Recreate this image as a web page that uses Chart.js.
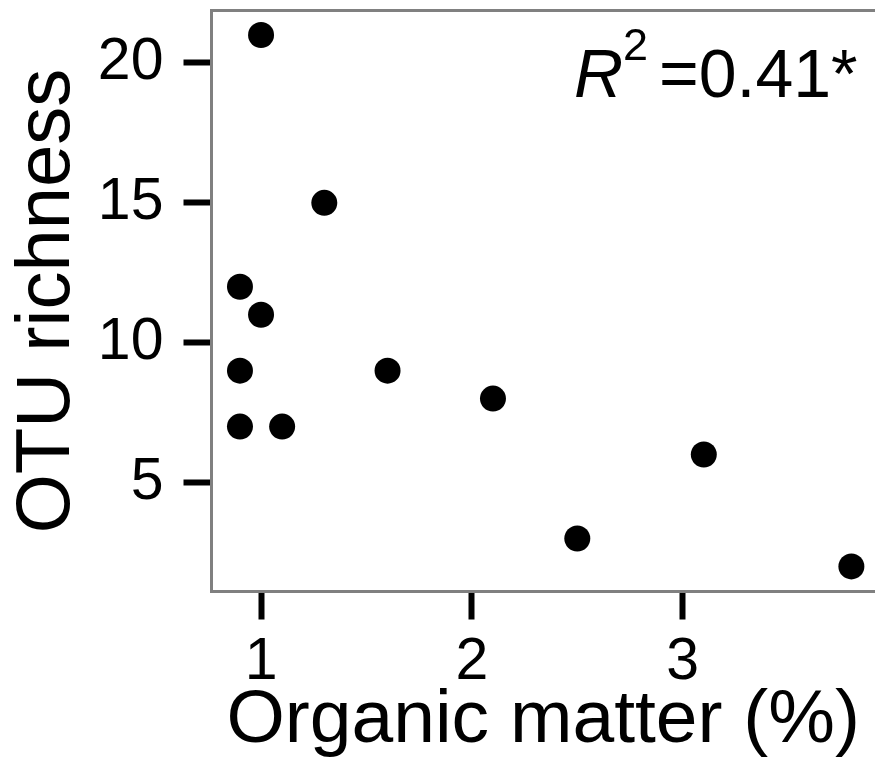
<!DOCTYPE html>
<html>
<head>
<meta charset="utf-8">
<script src="https://cdn.jsdelivr.net/npm/chart.js@4/dist/chart.umd.min.js"></script>
<style>
  html, body { margin: 0; padding: 0; background: #fff; overflow: hidden; }
  canvas { display: block; }
</style>
</head>
<body>
<canvas id="omChart" width="875" height="777"></canvas>
<script>
// values
var organicMatter = [1.0, 1.3, 0.9, 1.0, 0.9, 1.6, 2.1, 0.9, 1.1, 3.1, 2.5, 3.8];
var otuRichness   = [21, 15, 12, 11, 9, 9, 8, 7, 7, 6, 3, 2];
var xTickValues = [1, 2, 3];
var yTickValues = [5, 10, 15, 20];
var xTitle = 'Organic matter (%)';
var yTitle = 'OTU richness';
var r2Value = '=0.41*';

var FONT = '"Liberation Sans", Arial, Helvetica, sans-serif';
var BORDER = '#808080';

var points = organicMatter.map(function(x, i) {
    return { x: x, y: otuRichness[i] };
});

// no extra room for edge labels, the frame sits where the figure has it
function noPad(s) {
    s.paddingTop = 0;
    s.paddingBottom = 0;
    s.paddingLeft = 0;
    s.paddingRight = 0;
}

// top frame line and the R^2 annotation
var extras = {
    id: 'extras',
    afterDraw: function(chart) {
        var ctx = chart.ctx;
        var a = chart.chartArea;
        ctx.save();
        ctx.strokeStyle = BORDER;
        ctx.lineWidth = 3;
        ctx.beginPath();
        ctx.moveTo(a.left - 1.5, a.top);
        ctx.lineTo(a.right + 2, a.top);
        ctx.stroke();

        ctx.fillStyle = '#000';
        ctx.textBaseline = 'alphabetic';
        ctx.textAlign = 'left';
        ctx.font = 'italic 68px ' + FONT;
        ctx.fillText('R', 574, 97);
        ctx.font = '45px ' + FONT;
        ctx.fillText('2', 623, 60);
        ctx.font = '68px ' + FONT;
        ctx.fillText(r2Value, 659, 97);
        ctx.restore();
    }
};

var ctx = document.getElementById('omChart').getContext('2d');
var chart = new Chart(ctx, {
    type: 'scatter',
    data: {
        datasets: [{
            data: points,
            backgroundColor: '#000',
            borderWidth: 0,
            pointRadius: 13,
            pointHoverRadius: 13,
            clip: false
        }]
    },
    options: {
        responsive: false,
        animation: false,
        events: [],
        layout: {
            autoPadding: false,
            padding: { top: 10.5, right: 0, left: 0, bottom: 0 }
        },
        plugins: {
            legend: { display: false },
            tooltip: { enabled: false }
        },
        scales: {
            x: {
                type: 'linear',
                min: 0.765,
                max: 3.912,
                afterBuildTicks: function(s) {
                    s.ticks = xTickValues.map(function(v) { return { value: v }; });
                },
                afterFit: function(s) { s.height = 185.5; noPad(s); },
                grid: {
                    drawOnChartArea: false,
                    drawTicks: true,
                    tickLength: 28,
                    tickWidth: 6,
                    tickColor: '#000'
                },
                border: { display: true, color: BORDER, width: 3 },
                ticks: {
                    color: '#000',
                    padding: 8,
                    maxRotation: 0,
                    font: { family: FONT, size: 59 }
                },
                title: {
                    display: true,
                    text: xTitle,
                    color: '#000',
                    font: { family: FONT, size: 75, lineHeight: 1.2 },
                    padding: { top: 0, bottom: 11 }
                }
            },
            y: {
                type: 'linear',
                min: 1.103,
                max: 21.877,
                afterBuildTicks: function(s) {
                    s.ticks = yTickValues.map(function(v) { return { value: v }; });
                },
                afterFit: function(s) { s.width = 211.5; noPad(s); },
                grid: {
                    drawOnChartArea: false,
                    drawTicks: true,
                    tickLength: 28,
                    tickWidth: 6,
                    tickColor: '#000'
                },
                border: { display: true, color: BORDER, width: 3 },
                ticks: {
                    color: '#000',
                    padding: 20,
                    font: { family: FONT, size: 59 }
                },
                title: {
                    display: true,
                    text: yTitle,
                    color: '#000',
                    font: { family: FONT, size: 76, lineHeight: 1.2 },
                    padding: { top: 2.5, bottom: 0 }
                }
            }
        }
    },
    plugins: [extras]
});
</script>
</body>
</html>
